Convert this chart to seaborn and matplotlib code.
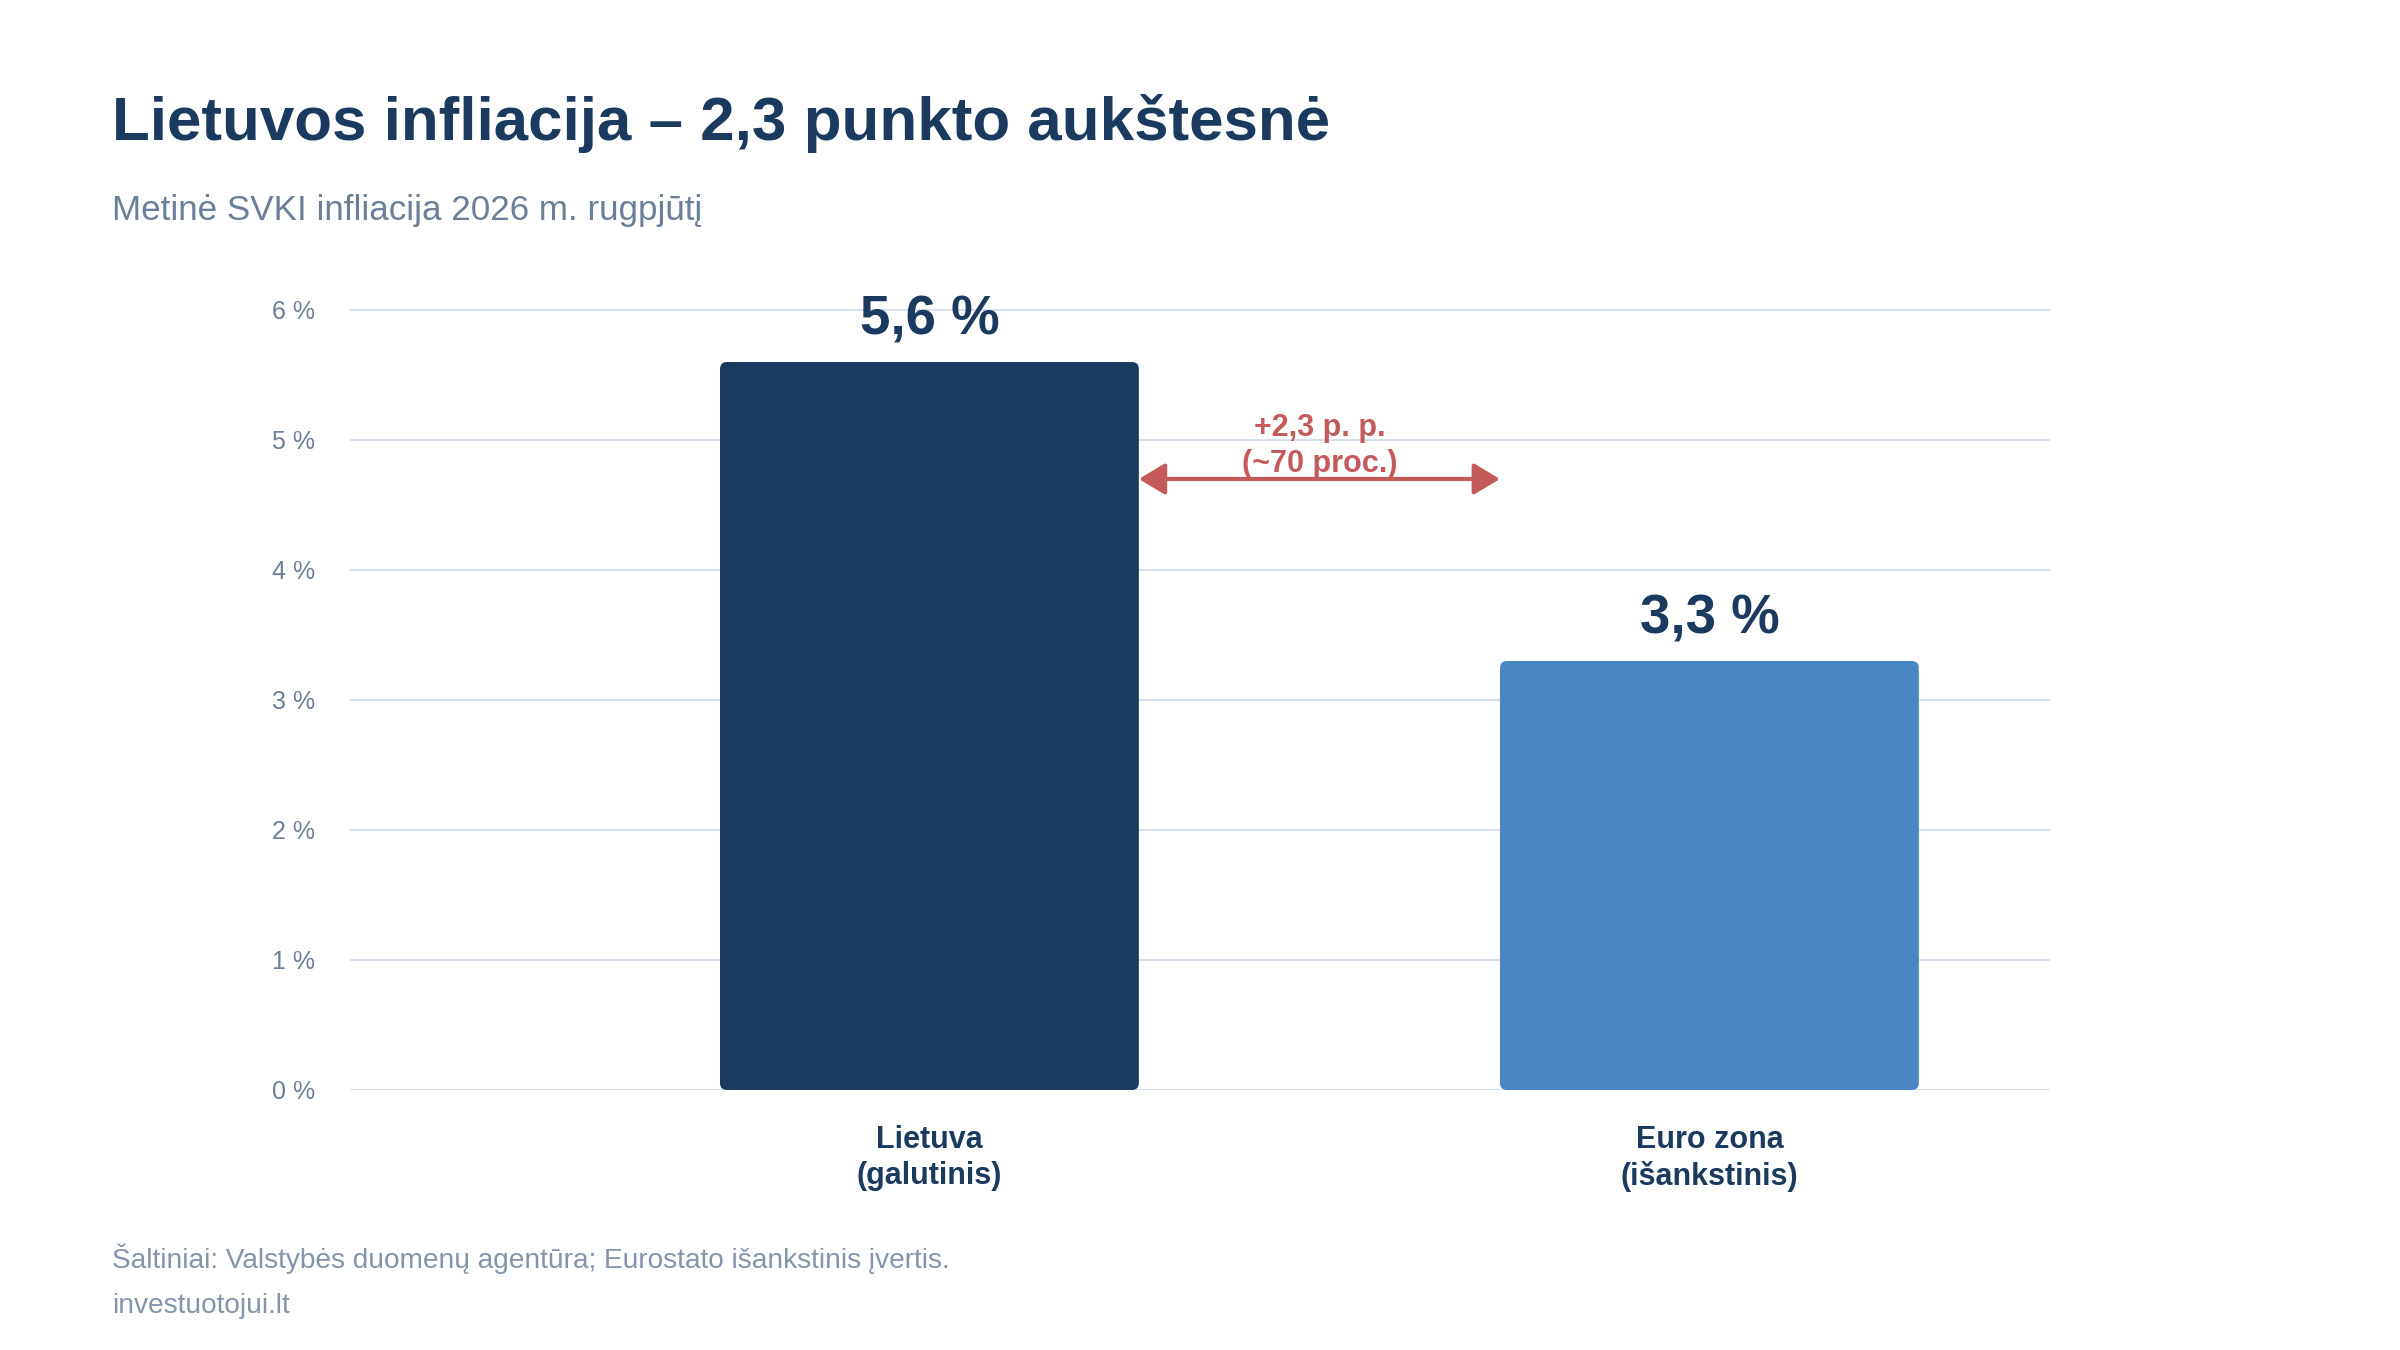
import matplotlib
matplotlib.use("Agg")
import matplotlib.pyplot as plt
import seaborn as sns
import pandas as pd
from matplotlib.patches import FancyBboxPatch
from matplotlib.ticker import FixedLocator

# ---- data ----
categories = ["Lietuva\n(galutinis)", "Euro zona\n(išankstinis)"]
values = [5.6, 3.3]
y_ticks = [0, 1, 2, 3, 4, 5, 6]
diff_line1 = "+2,3 p. p."
diff_line2 = "(~70 proc.)"
title = "Lietuvos infliacija – 2,3 punkto aukštesnė"
subtitle = "Metinė SVKI infliacija 2026 m. rugpjūtį"
footer1 = "Šaltiniai: Valstybės duomenų agentūra; Eurostato išankstinis įvertis."
footer2 = "investuotojui.lt"

# ---- style ----
NAVY = "#1b3a5f"
LIGHT = "#4a86c4"
RED = "#c55a5a"
GRID = "#d6e1ec"
TICK = "#6b7f99"
FOOT = "#8494ab"
bar_colors = [NAVY, LIGHT]

sns.set_theme(style="white")
plt.rcParams["font.family"] = ["Liberation Sans", "DejaVu Sans"]

fig = plt.figure(figsize=(24, 13.5), dpi=100)
ax = fig.add_axes([0.1458, 0.1926, 0.7083, 0.6163])

df = pd.DataFrame({"cat": categories, "val": values})
sns.barplot(data=df, x="cat", y="val", hue="cat", palette=bar_colors,
            width=0.537, saturation=1, legend=False, ax=ax, zorder=3)

ax.set_xlim(-0.743, 1.4365)
ax.set_ylim(0, 6.4)
ax.yaxis.set_major_locator(FixedLocator(y_ticks))
ax.set_yticklabels([f"{t} %" for t in y_ticks])
ax.grid(axis="y", color=GRID, linewidth=1.5, zorder=0)
ax.grid(axis="x", visible=False)
ax.set_axisbelow(True)
for s in ax.spines.values():
    s.set_visible(False)
ax.set_xlabel("")
ax.set_ylabel("")
ax.tick_params(axis="y", length=0, pad=25, labelsize=18, labelcolor=TICK)
ax.tick_params(axis="x", length=0, pad=25, labelsize=22, labelcolor=NAVY)
for lab in ax.get_xticklabels():
    lab.set_fontweight("bold")
    lab.set_linespacing(1.28)

# rounded bars replacing rectangles
fig.canvas.draw()
px_x = ax.transData.transform((1, 0))[0] - ax.transData.transform((0, 0))[0]
px_y = ax.transData.transform((0, 1))[1] - ax.transData.transform((0, 0))[1]
r_px = 7
bars = list(ax.patches)
for p in bars:
    x0, y0, w, h = p.get_x(), p.get_y(), p.get_width(), p.get_height()
    fb = FancyBboxPatch((x0, y0), w, h,
                        boxstyle=f"round,pad=0,rounding_size={r_px / px_x}",
                        mutation_aspect=px_x / px_y,
                        facecolor=p.get_facecolor(), edgecolor="none", zorder=3)
    p.set_visible(False)
    ax.add_patch(fb)

# value labels
for p, v in zip(bars, values):
    cx = p.get_x() + p.get_width() / 2
    ax.annotate(f"{v:.1f} %".replace(".", ","), xy=(cx, v), xytext=(0, 19.5),
                textcoords="offset points", ha="center", va="baseline",
                fontsize=39.3, fontweight="bold", color=NAVY, zorder=5)

# difference arrow between bars
x_left = bars[0].get_x() + bars[0].get_width()
x_right = bars[1].get_x()
arrow_y = 4.7
ax.annotate("", xy=(x_left, arrow_y), xytext=(x_right, arrow_y),
            arrowprops=dict(arrowstyle="<|-|>,head_length=0.8,head_width=0.48",
                            color=RED, lw=3, mutation_scale=20,
                            shrinkA=0, shrinkB=0), zorder=5)
xm = (x_left + x_right) / 2
ax.annotate(diff_line2, xy=(xm, arrow_y), xytext=(0, 5), textcoords="offset points",
            ha="center", va="baseline", fontsize=22, fontweight="bold", color=RED, zorder=5)
ax.annotate(diff_line1, xy=(xm, arrow_y), xytext=(0, 31), textcoords="offset points",
            ha="center", va="baseline", fontsize=22, fontweight="bold", color=RED, zorder=5)

# titles and footer
fig.text(112 / 2400, 1 - 140 / 1350, title, fontsize=44.6, fontweight="bold",
         color=NAVY, ha="left", va="baseline")
fig.text(112 / 2400, 1 - 220 / 1350, subtitle, fontsize=25.2,
         color=TICK, ha="left", va="baseline")
fig.text(112 / 2400, 1 - 1268 / 1350, footer1, fontsize=20.2,
         color=FOOT, ha="left", va="baseline")
fig.text(112 / 2400, 1 - 1313 / 1350, footer2, fontsize=20.2,
         color=FOOT, ha="left", va="baseline")

fig.savefig("out.png", dpi=100, facecolor="white")
